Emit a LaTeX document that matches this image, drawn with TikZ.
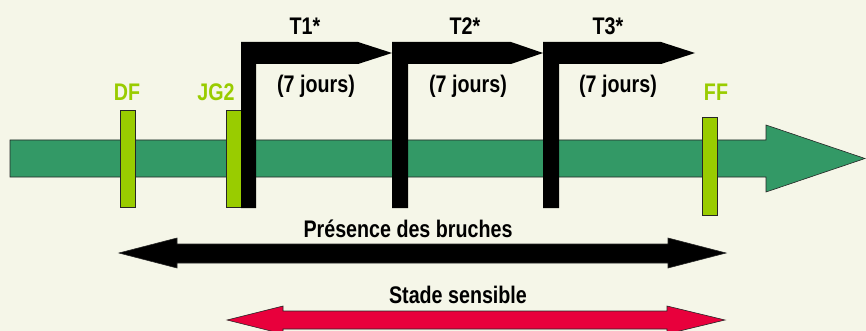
\documentclass[tikz,border=0pt]{standalone}
\usepackage{fontspec}
\setmainfont{Liberation Sans}[FakeStretch=0.82]
\usepackage{tikz}

\definecolor{paper}{RGB}{245,246,232}
\definecolor{cropgreen}{RGB}{51,153,102}
\definecolor{stagelime}{RGB}{153,204,0}
\definecolor{sensred}{RGB}{232,0,60}

\begin{document}
\begin{tikzpicture}[x=1pt, y=-1pt,
    lab/.style={font=\fontsize{24}{27}\selectfont\bfseries, inner sep=0pt, anchor=base},
    stagebar/.style={draw=black!85, fill=stagelime, line width=0.6pt},
    treat/.style={fill=black},
    block/.style={draw=black!85, line width=0.6pt}]
    \fill[paper] (0,0) rectangle (866,331);
    \useasboundingbox (0,0) rectangle (866,331);

    % time axis
    \draw[block, fill=cropgreen] (10,140) -- (766,140) -- (766,125) -- (865,158.5)
        -- (766,192) -- (766,177) -- (10,177) -- cycle;

    \draw[stagebar] (120,110) rectangle (135,207);
    \node[lab, text=stagelime] (df) at (127,101) {DF};

    \draw[stagebar] (226,110) rectangle (241,207);
    \node[lab, text=stagelime] (jg2) at (216,101) {JG2};

    \draw[stagebar] (702,117) rectangle (717,215);
    \node[lab, text=stagelime] (ff) at (716,101) {FF};

    % treatments
    \fill[treat] (241,208) -- (241,42) -- (358,42) -- (392,53) -- (358,64)
        -- (256,64) -- (256,208) -- cycle;
    \node[lab] (t1) at (305,35) {T1*};
    \node[lab] (d1) at (316,93) {(7 jours)};

    \fill[treat] (392,208) -- (392,42) -- (511,42) -- (543,53) -- (511,64)
        -- (408,64) -- (408,208) -- cycle;
    \node[lab] (t2) at (465,35) {T2*};
    \node[lab] (d2) at (468,93) {(7 jours)};

    \fill[treat] (543,208) -- (543,42) -- (661,42) -- (695,53) -- (661,64)
        -- (559,64) -- (559,208) -- cycle;
    \node[lab] (t3) at (608,35) {T3*};
    \node[lab] (d3) at (618,93) {(7 jours)};

    % periods
    \node[lab] (pres) at (408,237) {Présence des bruches};
    \draw[block, fill=black] (119,253) -- (177,238) -- (177,244) -- (668,244) -- (668,238)
        -- (726,253) -- (668,268) -- (668,263) -- (177,263) -- (177,268) -- cycle;

    \node[lab] (sens) at (458,303) {Stade sensible};
    \draw[block, fill=sensred] (227,320) -- (283,306) -- (283,311) -- (667,311) -- (667,306)
        -- (725,320) -- (667,334) -- (667,329) -- (283,329) -- (283,334) -- cycle;
\end{tikzpicture}
\end{document}
